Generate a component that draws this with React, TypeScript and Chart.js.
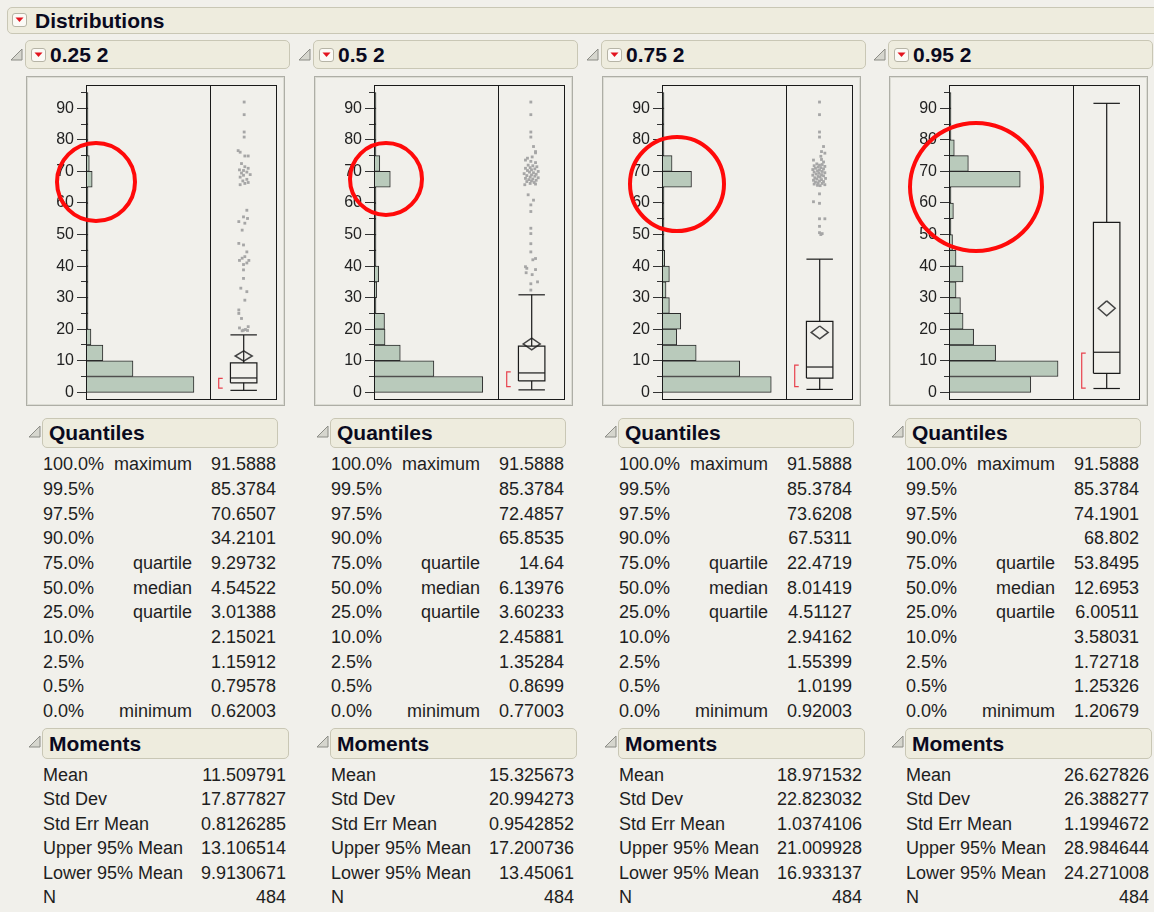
import React, { useEffect, useRef } from 'react';
import { Chart, registerables } from 'chart.js';

Chart.register(...registerables);

const FONT = '"Liberation Sans", Arial, sans-serif';

// ---------------- data ----------------
const panelTitles = ['0.25 2', '0.5 2', '0.75 2', '0.95 2'];

const binCenters = [2.5, 7.5, 12.5, 17.5, 22.5, 27.5, 32.5, 37.5, 42.5, 47.5, 52.5, 57.5, 62.5, 67.5, 72.5, 77.5, 82.5, 87.5, 92.5];

const counts025 = [262, 114, 41, 12, 3, 2, 3, 2, 5, 3, 4, 3, 2, 15, 8, 2, 1, 1, 1];
const counts05 = [207, 114, 50, 21, 20, 1, 5, 9, 2, 1, 2, 1, 2, 31, 11, 3, 2, 1, 1];
const counts075 = [163, 116, 51, 22, 28, 11, 6, 11, 4, 1, 3, 1, 1, 44, 15, 3, 2, 1, 1];
const counts095 = [93, 124, 53, 28, 16, 13, 8, 16, 8, 4, 2, 5, 2, 81, 22, 6, 1, 1, 1];

const histAxisMax = [301, 236, 185, 141];

const yMajorTicks = [0, 10, 20, 30, 40, 50, 60, 70, 80, 90];
const yMinorTicks = [5, 15, 25, 35, 45, 55, 65, 75, 85, 95];

const quantileLevels = ['100.0%', '99.5%', '97.5%', '90.0%', '75.0%', '50.0%', '25.0%', '10.0%', '2.5%', '0.5%', '0.0%'];
const quantileNames = ['maximum', '', '', '', 'quartile', 'median', 'quartile', '', '', '', 'minimum'];

const quant025 = [91.5888, 85.3784, 70.6507, 34.2101, 9.29732, 4.54522, 3.01388, 2.15021, 1.15912, 0.79578, 0.62003];
const quant05 = [91.5888, 85.3784, 72.4857, 65.8535, 14.64, 6.13976, 3.60233, 2.45881, 1.35284, 0.8699, 0.77003];
const quant075 = [91.5888, 85.3784, 73.6208, 67.5311, 22.4719, 8.01419, 4.51127, 2.94162, 1.55399, 1.0199, 0.92003];
const quant095 = [91.5888, 85.3784, 74.1901, 68.802, 53.8495, 12.6953, 6.00511, 3.58031, 1.72718, 1.25326, 1.20679];

const momentLabels = ['Mean', 'Std Dev', 'Std Err Mean', 'Upper 95% Mean', 'Lower 95% Mean', 'N'];
const moments025 = [11.509791, 17.877827, 0.8126285, 13.106514, 9.9130671, 484];
const moments05 = [15.325673, 20.994273, 0.9542852, 17.200736, 13.45061, 484];
const moments075 = [18.971532, 22.823032, 1.0374106, 21.009928, 16.933137, 484];
const moments095 = [26.627826, 26.388277, 1.1994672, 28.984644, 24.271008, 484];

const upperWhisker = [18.2, 30.9, 42.2, 91.5888];
const shortestHalfLo = [1.3, 1.8, 1.8, 1.3];
const shortestHalfHi = [4.4, 6.5, 8.6, 12.4];

// outlier points: [jitter position across the box column (0-100), value]
const outliers025 = [
  [51, 92.0], [51, 88.0], [51, 82.5], [51, 80.9], [42, 76.6], [45, 76.1], [52, 74.9], [57, 74.9],
  [47, 72.5], [52, 71.5], [57, 71.0], [44, 70.5], [50, 70.3], [55, 69.8], [47, 69.5], [60, 69.0],
  [50, 68.8], [45, 68.2], [55, 67.5], [49, 67.0], [57, 66.5], [45, 65.8], [52, 66.2], [55, 57.7],
  [50, 55.6], [56, 55.1], [43, 54.1], [52, 53.6], [48, 51.4], [43, 47.2], [50, 46.7], [55, 44.5],
  [52, 43.0], [48, 42.5], [44, 41.8], [58, 41.8], [55, 41.0], [50, 40.5], [50, 38.8], [50, 36.1],
  [46, 33.0], [55, 31.9], [52, 29.2], [43, 26.1], [43, 25.0], [47, 23.4], [44, 20.4], [57, 20.8],
  [50, 19.7], [53, 19.9], [48, 19.5], [56, 19.6]
];
const outliers05 = [
  [49, 92.0], [49, 88.0], [49, 82.5], [49, 80.9], [53, 77.9], [56, 76.3], [56, 75.9], [51, 74.6],
  [44, 74.2], [41, 73.6], [49, 73.2], [56, 72.8], [45, 72.0], [52, 71.8], [58, 71.5], [48, 71.2],
  [41, 71.0], [55, 70.8], [50, 70.5], [44, 70.3], [60, 70.0], [47, 69.8], [53, 69.6], [39, 69.3],
  [57, 69.1], [50, 68.9], [43, 68.7], [55, 68.5], [48, 68.2], [60, 68.0], [41, 67.8], [52, 67.6],
  [46, 67.4], [57, 67.2], [50, 67.0], [43, 66.8], [54, 66.5], [48, 66.2], [56, 66.0], [40, 65.8],
  [45, 62.6], [53, 60.9], [49, 59.4], [49, 57.3], [49, 52.0], [49, 50.3], [49, 47.1], [49, 44.5],
  [56, 42.4], [52, 42.0], [41, 39.8], [43, 39.3], [56, 38.9], [42, 37.9], [51, 37.3], [59, 35.0],
  [49, 34.4], [49, 32.4]
];
const outliers075 = [
  [50, 92.0], [50, 88.0], [50, 82.5], [50, 80.9], [56, 77.9], [53, 76.3], [58, 75.8], [52, 74.8],
  [41, 73.6], [53, 73.8], [56, 73.0], [46, 72.4], [54, 72.2], [50, 72.0], [42, 71.8], [58, 71.6],
  [48, 71.4], [52, 71.2], [44, 71.0], [56, 70.8], [40, 70.6], [50, 70.4], [47, 70.2], [54, 70.0],
  [42, 69.8], [58, 69.6], [49, 69.4], [45, 69.2], [53, 69.0], [40, 68.8], [56, 68.6], [48, 68.4],
  [51, 68.2], [43, 68.0], [59, 67.8], [46, 67.6], [53, 67.4], [41, 67.2], [50, 67.0], [56, 66.8],
  [44, 66.6], [48, 66.4], [54, 66.2], [42, 66.0], [58, 65.8], [47, 65.6], [51, 65.5], [50, 62.9],
  [41, 60.4], [50, 59.9], [50, 55.0], [58, 55.0], [50, 52.6], [50, 50.6], [54, 50.3], [52, 50.0]
];
const outliers095: number[][] = [];

const allCounts = [counts025, counts05, counts075, counts095];
const allQuant = [quant025, quant05, quant075, quant095];
const allMoments = [moments025, moments05, moments075, moments095];
const allOutliers = [outliers025, outliers05, outliers075, outliers095];

// ---------------- styling / layout ----------------
const BG = '#f1f0eb';
const HEADER_BG = '#eeecde';
const HEADER_BORDER = '#c9c7b5';
const TEXT = '#1e1e1e';
const TITLE = '#0a0a1e';
const panelLeft = [8, 296, 584, 871];
const redCircles = [
  { cx: 96, cy: 182, rx: 41, ry: 41 },
  { cx: 386, cy: 179, rx: 38, ry: 38 },
  { cx: 677, cy: 184, rx: 49, ry: 49 },
  { cx: 976, cy: 187, rx: 68, ry: 66 },
];

const framePlugin = {
  id: 'frame',
  afterDatasetsDraw(chart: any) {
    const { ctx, chartArea: a, scales } = chart;
    ctx.save();
    ctx.strokeStyle = '#1a1a1a';
    ctx.lineWidth = 1;
    const l = Math.round(a.left) + 0.5;
    const t = Math.round(a.top) + 0.5;
    const r = Math.round(a.right) - 0.5;
    const b = Math.round(a.bottom) - 0.5;
    ctx.strokeRect(l, t, r - l, b - t);
    const xd = Math.round(scales.xh.right) + 0.5;
    ctx.beginPath();
    ctx.moveTo(xd, t);
    ctx.lineTo(xd, b);
    ctx.stroke();
    ctx.restore();
  },
};

function buildConfig(i: number): any {
  const q = allQuant[i];
  const m = allMoments[i];
  const q3 = q[4], med = q[5], q1 = q[6], mn = q[10];
  const mean = m[0], ciHi = m[3], ciLo = m[4];
  const up = upperWhisker[i];
  const C = 50.3, L = 30.5, R = 70, D = 12.7;
  const B1 = 13, B2 = 19;

  const seg = (data: { x: number; y: number }[], color: string, width: number) => ({
    type: 'line',
    data,
    xAxisID: 'xb',
    yAxisID: 'y',
    borderColor: color,
    backgroundColor: color,
    borderWidth: width,
    pointRadius: 0,
    fill: false,
    tension: 0,
    showLine: true,
  });

  const boxColor = '#1a1a1a';
  const datasets: any[] = [
    {
      type: 'bar',
      indexAxis: 'y',
      xAxisID: 'xh',
      yAxisID: 'y',
      data: binCenters.map((c, k) => ({ x: allCounts[i][k], y: c })),
      backgroundColor: '#b9cabb',
      borderColor: '#2a2a2a',
      borderWidth: 1,
      borderSkipped: 'start',
      barPercentage: 1,
      categoryPercentage: 1,
      grouped: false,
      minBarLength: 2,
    },
    {
      type: 'scatter',
      xAxisID: 'xb',
      yAxisID: 'y',
      data: allOutliers[i].map((p) => ({ x: p[0], y: p[1] })),
      pointStyle: 'rect',
      pointRadius: 2,
      pointBorderWidth: 0,
      backgroundColor: '#a6a6a6',
      borderColor: '#a6a6a6',
    },
    seg([{ x: C, y: mn }, { x: C, y: q1 }], boxColor, 1.2),
    seg([{ x: L, y: mn }, { x: R, y: mn }], boxColor, 1.2),
    seg([{ x: C, y: q3 }, { x: C, y: up }], boxColor, 1.2),
    seg([{ x: L, y: up }, { x: R, y: up }], boxColor, 1.2),
    seg([{ x: L, y: q1 }, { x: R, y: q1 }, { x: R, y: q3 }, { x: L, y: q3 }, { x: L, y: q1 }], boxColor, 1.2),
    seg([{ x: L, y: med }, { x: R, y: med }], boxColor, 1.2),
    seg([{ x: C, y: ciHi }, { x: C + D, y: mean }, { x: C, y: ciLo }, { x: C - D, y: mean }, { x: C, y: ciHi }], '#444444', 1.5),
    seg([{ x: B2, y: shortestHalfLo[i] }, { x: B1, y: shortestHalfLo[i] }, { x: B1, y: shortestHalfHi[i] }, { x: B2, y: shortestHalfHi[i] }], '#e8414d', 1.2),
  ];

  const yRange = { min: -2.44, max: 97.4 };

  return {
    type: 'bar',
    data: { datasets },
    plugins: [framePlugin],
    options: {
      responsive: false,
      animation: false,
      devicePixelRatio: 1,
      events: [],
      layout: { padding: { left: 0, right: 8, top: 9, bottom: 6 } },
      plugins: { legend: { display: false }, tooltip: { enabled: false } },
      scales: {
        xh: {
          type: 'linear', axis: 'x', position: 'bottom', stack: 'row', stackWeight: 124,
          min: 0, max: histAxisMax[i], offset: false, grid: { offset: false }, display: false,
        },
        xb: {
          type: 'linear', axis: 'x', position: 'bottom', stack: 'row', stackWeight: 67,
          min: 0, max: 100, offset: false, grid: { offset: false }, display: false,
        },
        y: {
          type: 'linear',
          axis: 'y',
          position: 'left',
          weight: 1,
          ...yRange,
          offset: false,
          afterBuildTicks: (s: any) => {
            s.ticks = yMajorTicks.map((v) => ({ value: v }));
          },
          afterFit: (s: any) => {
            s.width = 60;
            s.paddingTop = 0;
            s.paddingBottom = 0;
          },
          ticks: {
            autoSkip: false,
            padding: 3,
            color: '#222222',
            font: { size: 16, family: FONT },
            callback: (v: any) => String(v),
          },
          grid: { offset: false, drawOnChartArea: false, drawTicks: true, tickLength: 9, color: '#333333', lineWidth: 1 },
          border: { display: false },
        },
        yMinor: {
          type: 'linear',
          axis: 'y',
          position: 'left',
          weight: 0,
          ...yRange,
          offset: false,
          afterBuildTicks: (s: any) => {
            s.ticks = yMinorTicks.map((v) => ({ value: v }));
          },
          afterFit: (s: any) => {
            s.width = 0;
            s.paddingTop = 0;
            s.paddingBottom = 0;
          },
          ticks: { autoSkip: false, padding: 0, callback: () => '' },
          grid: { offset: false, drawOnChartArea: false, drawTicks: true, tickLength: 5, color: '#333333', lineWidth: 1 },
          border: { display: false },
        },
      },
    },
  };
}

// ---------------- UI pieces ----------------
function Disclose({ x, y }: { x: number; y: number }) {
  return (
    <svg style={{ position: 'absolute', left: x, top: y }} width={13} height={13}>
      <polygon points="12,1 12,12 1,12" fill="#d6d6ce" stroke="#8c8c86" strokeWidth={1} />
    </svg>
  );
}

function RedButton({ x, y }: { x: number; y: number }) {
  return (
    <div
      style={{
        position: 'absolute', left: x, top: y, width: 15, height: 14, boxSizing: 'border-box',
        background: '#fbfaf6', border: '1px solid #b6b4a6', borderRadius: 3,
      }}
    >
      <svg width={13} height={12} style={{ position: 'absolute', left: 0, top: 0 }}>
        <polygon points="2.5,3.5 10.5,3.5 6.5,8" fill="#e3141f" />
      </svg>
    </div>
  );
}

function HeaderBox({ x, y, w, h, text, textLeft }: { x: number; y: number; w: number; h: number; text: string; textLeft: number }) {
  return (
    <div
      style={{
        position: 'absolute', left: x, top: y, width: w, height: h, boxSizing: 'border-box',
        background: HEADER_BG, border: `1px solid ${HEADER_BORDER}`, borderRadius: 5,
        display: 'flex', alignItems: 'center', paddingLeft: textLeft,
        fontWeight: 'bold', fontSize: 21, color: TITLE, whiteSpace: 'nowrap', overflow: 'hidden',
      }}
    >
      {text}
    </div>
  );
}

function Panel({ i }: { i: number }) {
  const ref = useRef<HTMLCanvasElement>(null);
  useEffect(() => {
    const chart = new Chart(ref.current as HTMLCanvasElement, buildConfig(i));
    return () => chart.destroy();
  }, [i]);
  const bx = panelLeft[i];
  const q = allQuant[i];
  const m = allMoments[i];
  const circ = redCircles[i];
  const rowText: React.CSSProperties = { position: 'absolute', fontSize: 18, lineHeight: '20px', color: TEXT, whiteSpace: 'nowrap' };

  return (
    <>
      <Disclose x={bx + 2} y={48} />
      <HeaderBox x={bx + 17} y={40} w={265} h={29} text="" textLeft={0} />
      <RedButton x={bx + 23} y={48} />
      <div style={{ position: 'absolute', left: bx + 42, top: 42, height: 25, display: 'flex', alignItems: 'center', fontWeight: 'bold', fontSize: 21, color: TITLE }}>
        {panelTitles[i]}
      </div>

      <div
        style={{
          position: 'absolute', left: bx + 18, top: 76, width: 259, height: 330, boxSizing: 'border-box',
          border: '1px solid #aeaea6', boxShadow: 'inset 0 0 0 1px #dcdcd4',
        }}
      />
      <canvas ref={ref} width={259} height={330} style={{ position: 'absolute', left: bx + 18, top: 76, width: 259, height: 330 }} />

      <Disclose x={bx + 20} y={425} />
      <HeaderBox x={bx + 34} y={418} w={236} h={30} text="Quantiles" textLeft={6} />
      {quantileLevels.map((lev, k) => {
        const top = 464.3 + k * 24.65 - 10;
        return (
          <React.Fragment key={'q' + k}>
            <div style={{ ...rowText, left: bx + 35, top }}>{lev}</div>
            <div style={{ ...rowText, left: bx + 94, top, width: 90, textAlign: 'right' }}>{quantileNames[k]}</div>
            <div style={{ ...rowText, left: bx + 188, top, width: 80, textAlign: 'right' }}>{String(q[k])}</div>
          </React.Fragment>
        );
      })}

      <Disclose x={bx + 20} y={735} />
      <HeaderBox x={bx + 34} y={728} w={247} h={31} text="Moments" textLeft={6} />
      {momentLabels.map((lab, k) => {
        const top = 775 + k * 24.4 - 10;
        return (
          <React.Fragment key={'m' + k}>
            <div style={{ ...rowText, left: bx + 35, top }}>{lab}</div>
            <div style={{ ...rowText, left: bx + 168, top, width: 110, textAlign: 'right' }}>{String(m[k])}</div>
          </React.Fragment>
        );
      })}

      <div
        style={{
          position: 'absolute', left: circ.cx - circ.rx, top: circ.cy - circ.ry, width: circ.rx * 2, height: circ.ry * 2,
          boxSizing: 'border-box', border: '4.5px solid #ff0a0a', borderRadius: '50%', pointerEvents: 'none',
        }}
      />
    </>
  );
}

export default function App() {
  return (
    <div
      style={{
        position: 'fixed', left: 0, top: 0, width: 1154, height: 912, overflow: 'hidden',
        background: BG, fontFamily: FONT, color: TEXT,
      }}
    >
      <HeaderBox x={7} y={7} w={1160} h={27} text="Distributions" textLeft={27} />
      <RedButton x={12} y={13} />
      {[0, 1, 2, 3].map((i) => (
        <Panel key={i} i={i} />
      ))}
    </div>
  );
}
